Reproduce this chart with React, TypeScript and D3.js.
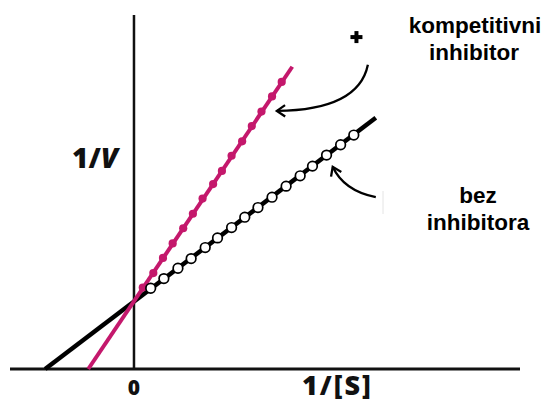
import * as d3 from 'd3';

const W = 548;
const H = 403;

// scale domains (1/[S] and 1/V units)
const X_DOMAIN = [-1.41, 4.39];
const Y_DOMAIN = [0, 5.13];

// line endpoints [1/[S], 1/V]
const bezLine = [[-1.01, 0], [2.75, 3.64]];
const inhibLine = [[-0.52, 0], [1.8, 4.38]];

// measured points on the competitive inhibitor line
const inhibX = [0.1, 0.22, 0.33, 0.44, 0.56, 0.67, 0.78, 0.9, 1.0, 1.11, 1.23, 1.34, 1.45, 1.57, 1.68];
const inhibY = [1.18, 1.39, 1.61, 1.82, 2.04, 2.25, 2.47, 2.68, 2.87, 3.09, 3.3, 3.52, 3.73, 3.95, 4.16];

// measured points without inhibitor
const bezX = [0.19, 0.34, 0.5, 0.65, 0.81, 0.95, 1.11, 1.26, 1.41, 1.57, 1.73, 1.89, 2.03, 2.19, 2.35, 2.5];
const bezY = [1.17, 1.31, 1.46, 1.6, 1.76, 1.9, 2.05, 2.2, 2.34, 2.49, 2.65, 2.8, 2.94, 3.1, 3.25, 3.39];

// annotation arrows (cubic curves in data units)
const arrowTop = [[2.66, 4.41], [2.59, 3.97], [2.23, 3.75], [1.625, 3.74]];
const arrowBottom = [[2.75, 2.49], [2.51, 2.55], [2.34, 2.71], [2.26, 2.93]];

const MAGENTA = '#c4186c';

const App = () => {
  const xScale = d3.scaleLinear().domain(X_DOMAIN).range([10, 520]);
  const yScale = d3.scaleLinear().domain(Y_DOMAIN).range([369, 15]);

  const line = d3
    .line<number[]>()
    .x((d) => xScale(d[0]))
    .y((d) => yScale(d[1]));

  const curve = (pts: number[][]) => {
    const p = pts.map((d) => [xScale(d[0]), yScale(d[1])]);
    const path = d3.path();
    path.moveTo(p[0][0], p[0][1]);
    path.bezierCurveTo(p[1][0], p[1][1], p[2][0], p[2][1], p[3][0], p[3][1]);
    return path.toString();
  };

  const head = (pts: number[][]) => {
    const c = [xScale(pts[2][0]), yScale(pts[2][1])];
    const t = [xScale(pts[3][0]), yScale(pts[3][1])];
    const ang = Math.atan2(t[1] - c[1], t[0] - c[0]);
    const len = 10;
    const spread = 0.6;
    const a1 = [t[0] - len * Math.cos(ang - spread), t[1] - len * Math.sin(ang - spread)];
    const a2 = [t[0] - len * Math.cos(ang + spread), t[1] - len * Math.sin(ang + spread)];
    return `M${a1[0]},${a1[1]}L${t[0]},${t[1]}L${a2[0]},${a2[1]}`;
  };

  const x0 = xScale(0);
  const y0 = yScale(0);
  const plus = [xScale(2.53), yScale(4.81)];

  return (
    <svg
      width={W}
      height={H}
      style={{ position: 'absolute', left: 0, top: 0, background: '#fff' }}
    >
      {/* axes */}
      <line x1={xScale(X_DOMAIN[0])} x2={xScale(X_DOMAIN[1])} y1={y0} y2={y0} stroke="#111" strokeWidth={3} />
      <line x1={x0} x2={x0} y1={yScale(Y_DOMAIN[1])} y2={y0} stroke="#111" strokeWidth={2.5} />

      {/* lines */}
      <path d={line(bezLine) || ''} stroke="#000" strokeWidth={4.5} fill="none" />
      <path d={line(inhibLine) || ''} stroke={MAGENTA} strokeWidth={4} fill="none" />

      {inhibX.map((x, i) => (
        <circle key={'m' + i} cx={xScale(x)} cy={yScale(inhibY[i])} r={4.1} fill={MAGENTA} />
      ))}
      {bezX.map((x, i) => (
        <circle
          key={'b' + i}
          cx={xScale(x)}
          cy={yScale(bezY[i])}
          r={4.8}
          fill="#fff"
          stroke="#000"
          strokeWidth={1.7}
        />
      ))}

      {/* arrows */}
      <path d={curve(arrowTop)} stroke="#000" strokeWidth={2.3} fill="none" />
      <path d={head(arrowTop)} stroke="#000" strokeWidth={2.3} fill="none" />
      <path d={curve(arrowBottom)} stroke="#000" strokeWidth={2.3} fill="none" />
      <path d={head(arrowBottom)} stroke="#000" strokeWidth={2.3} fill="none" />
      <line x1={383} x2={383} y1={191} y2={214} stroke="#e4e4e4" strokeWidth={1} />

      <g stroke="#000" strokeWidth={4}>
        <line x1={plus[0] - 6} x2={plus[0] + 6} y1={plus[1]} y2={plus[1]} />
        <line x1={plus[0]} x2={plus[0]} y1={plus[1] - 6} y2={plus[1] + 6} />
      </g>

      {/* labels */}
      <g fontFamily="'Liberation Sans', Arial, sans-serif" fontWeight="bold" fontSize={22.5} textAnchor="middle" fill="#000">
        <text x={475} y={33}>kompetitivni</text>
        <text x={474} y={60}>inhibitor</text>
        <text x={478} y={203}>bez</text>
        <text x={478} y={230}>inhibitora</text>
      </g>
      <g fontFamily="'Open Sans', sans-serif" fontWeight={800} fill="#111">
        <text x={72} y={168} fontSize={28}>
          1/<tspan fontStyle="italic">V</tspan>
        </text>
        <text x={x0} y={395} fontSize={21} textAnchor="middle">0</text>
        <text x={302} y={395} fontSize={27} letterSpacing={2}>1/[S]</text>
      </g>
    </svg>
  );
};

export default App;
